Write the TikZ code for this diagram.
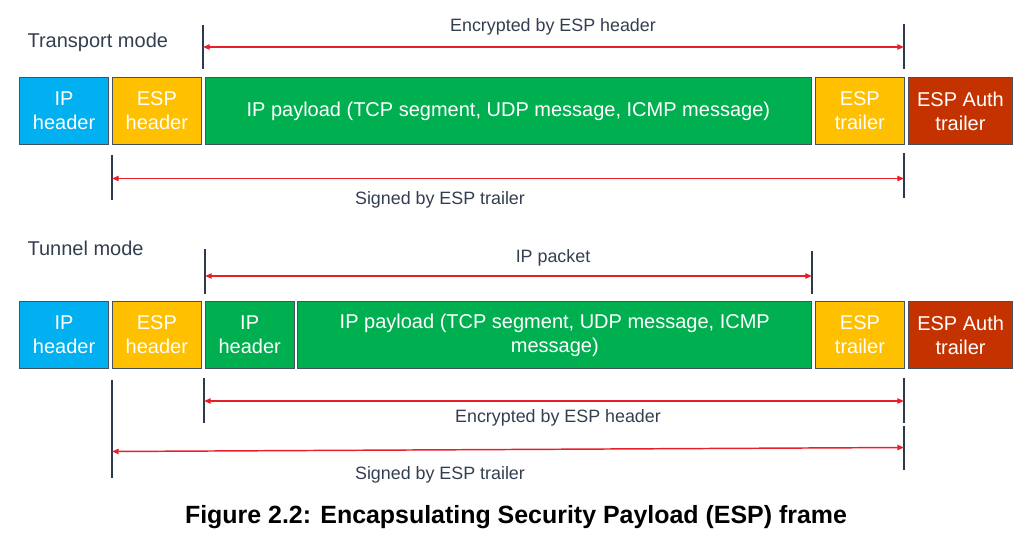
\documentclass[tikz,border=0pt]{standalone}
\usepackage{fontspec}
\setmainfont{Liberation Sans}
\usetikzlibrary{positioning,arrows.meta}
\definecolor{HeaderBlue}{RGB}{0,176,240}
\definecolor{EspYellow}{RGB}{255,192,0}
\definecolor{PayloadGreen}{RGB}{0,176,80}
\definecolor{AuthRed}{RGB}{196,50,0}
\definecolor{FrameGray}{RGB}{70,82,98}
\definecolor{MarkNavy}{RGB}{45,58,78}
\definecolor{SpanRed}{RGB}{232,30,40}
\definecolor{LabelText}{RGB}{51,63,80}

\begin{document}
\begin{tikzpicture}[x=0.75pt,y=-0.75pt,
    field/.style={draw=FrameGray,line width=0.6pt,text=white,align=center,
      minimum height=50.5pt,inner sep=0pt,font=\fontsize{15}{18}\selectfont},
    slim/.style={field,minimum width=67pt},
    marker/.style={draw=MarkNavy,line width=1.5pt},
    span/.style={draw=SpanRed,line width=1.1pt,
      {Triangle[length=5pt,width=4pt]}-{Triangle[length=5pt,width=4pt]}},
    note/.style={text=LabelText,font=\fontsize{13.4}{16}\selectfont},
    mode/.style={text=LabelText,font=\fontsize{15}{18}\selectfont,anchor=west,inner sep=1pt}]
  \useasboundingbox (0,0) rectangle (1027,541);

  % transport mode
  \node[mode] (transport) at (26,42) {Transport mode};
  \node[slim,fill=HeaderBlue,anchor=north west] (tIP) at (19,77) {IP\\header};
  \node[slim,fill=EspYellow,right=2pt of tIP] (tESP) {ESP\\header};
  \node[field,fill=PayloadGreen,minimum width=455pt,right=2pt of tESP] (tPay)
    {IP payload (TCP segment, UDP message, ICMP message)};
  \node[slim,fill=EspYellow,right=2pt of tPay] (tTrail) {ESP\\trailer};
  \node[field,fill=AuthRed,minimum width=78pt,right=2.4pt of tTrail] (tAuth) {ESP Auth\\trailer};

  \draw[marker] (203,25) -- (203,69);
  \draw[marker] (904,24) -- (904,69);
  \coordinate (tEncL) at (203,47);
  \coordinate (tEncR) at (904,47);
  \draw[span] (tEncL) -- (tEncR);
  \node[note] (tEncNote) at (553,27) {Encrypted by ESP header};

  \draw[marker] (112,155) -- (112,200);
  \draw[marker] (904,153) -- (904,198);
  \coordinate (tSigL) at (112,178.5);
  \coordinate (tSigR) at (904,178.5);
  \draw[span] (tSigL) -- (tSigR);
  \node[note] (tSigNote) at (440,200) {Signed by ESP trailer};

  % tunnel mode
  \node[mode] (tunnel) at (26,248) {Tunnel mode};
  \draw[marker] (205,249) -- (205,294);
  \draw[marker] (812,251) -- (812,294);
  \coordinate (uPktL) at (205,276);
  \coordinate (uPktR) at (812,276);
  \draw[span] (uPktL) -- (uPktR);
  \node[note] (uPktNote) at (553,258) {IP packet};

  \node[slim,fill=HeaderBlue,anchor=north west] (uIP) at (19,301) {IP\\header};
  \node[slim,fill=EspYellow,right=2pt of uIP] (uESP) {ESP\\header};
  \node[slim,fill=PayloadGreen,right=2pt of uESP] (uInIP) {IP\\header};
  \node[field,fill=PayloadGreen,minimum width=385.5pt,right=2pt of uInIP] (uPay)
    {IP payload (TCP segment, UDP message, ICMP\\message)};
  \node[slim,fill=EspYellow,right=2pt of uPay] (uTrail) {ESP\\trailer};
  \node[field,fill=AuthRed,minimum width=78pt,right=2.4pt of uTrail] (uAuth) {ESP Auth\\trailer};

  \draw[marker] (112,380) -- (112,478);
  \draw[marker] (204,378) -- (204,423);
  \draw[marker] (904,378) -- (904,423);
  \draw[marker] (904,426) -- (904,470);
  \coordinate (uEncL) at (204,401);
  \coordinate (uEncR) at (904,401);
  \draw[span] (uEncL) -- (uEncR);
  \node[note] (uEncNote) at (558,418) {Encrypted by ESP header};
  \coordinate (uSigL) at (112,451.5);
  \coordinate (uSigR) at (904,447.5);
  \draw[span] (uSigL) -- (uSigR);
  \node[note] (uSigNote) at (440,475) {Signed by ESP trailer};

  \node[font=\bfseries\fontsize{18.7}{22}\selectfont] (caption) at (516,517)
    {Figure 2.2: Encapsulating Security Payload (ESP) frame};
\end{tikzpicture}
\end{document}
